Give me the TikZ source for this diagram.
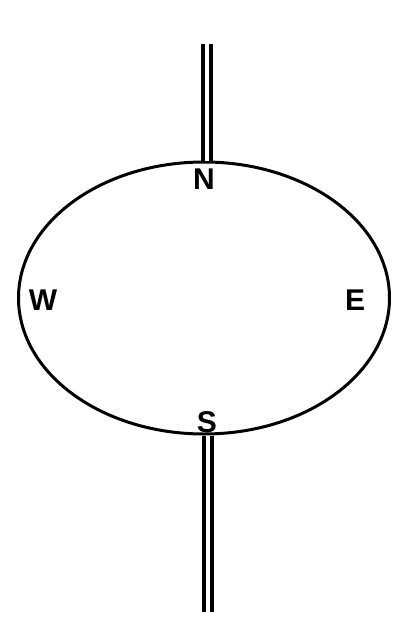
\documentclass[tikz,border=0pt]{standalone}
\usepackage{fontspec}
\setmainfont{Liberation Sans}
\usetikzlibrary{shapes.geometric, positioning}

\tikzset{
  rod/.style={double, line width=4.2pt, double distance=4pt, line cap=butt},
  point/.style={font=\fontsize{30}{30}\selectfont\bfseries, inner sep=0pt}
}

\begin{document}
\begin{tikzpicture}[x=1pt, y=-1pt, line width=3pt]
  \useasboundingbox (0,0) rectangle (392,626);
  \node[ellipse, draw, minimum width=371pt, minimum height=272pt, inner sep=0pt]
    (compass) at (204,298) {};
  \coordinate (top) at (207,44);
  \coordinate (bottom) at (208,612);
  \draw[rod] (top) -- (compass.north -| top);
  \draw[rod] (compass.south -| bottom) -- (bottom);
  \node[point] (n) at (204,179) {N};
  \node[point] (s) at (207,422) {S};
  \node[point] (w) at (43,300) {W};
  \node[point] (e) at (355,300) {E};
\end{tikzpicture}
\end{document}
